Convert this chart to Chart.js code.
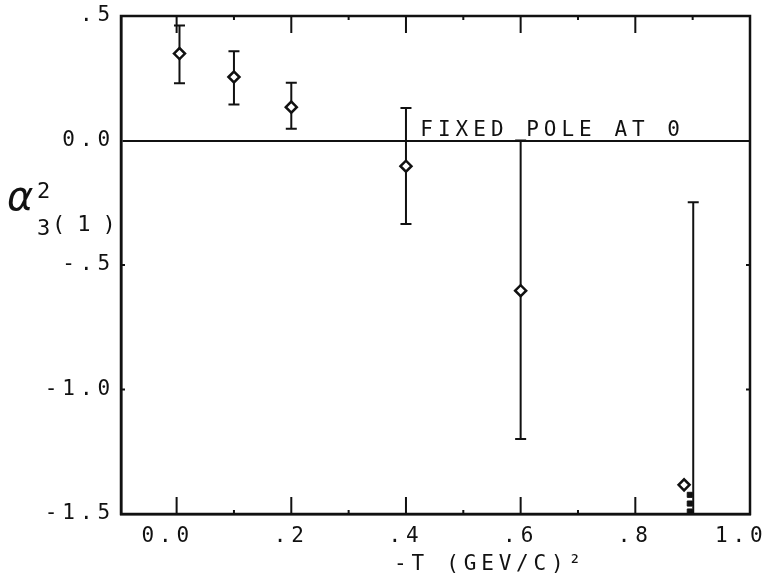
<!DOCTYPE html>
<html><head><meta charset="utf-8">
<script src="https://cdn.jsdelivr.net/npm/chart.js@4.4.1/dist/chart.umd.min.js"></script>
<style>html,body{margin:0;padding:0;background:#fff;}canvas{display:block;}</style>
</head><body>
<canvas id="c" width="762" height="581"></canvas>
<script>
// ---- data ----
const tValues      = [0.005, 0.1, 0.2, 0.4, 0.6, 0.885];
const alphaValues  = [0.349, 0.255, 0.134, -0.103, -0.603, -1.383];
const errT         = [0.005, 0.1, 0.2, 0.4, 0.6, 0.901];
const errUpper     = [0.462, 0.358, 0.232, 0.131, 0.0, -0.248];
const errLower     = [0.230, 0.145, 0.047, -0.335, -1.199, -1.5];
const clusterT     = [0.895, 0.895, 0.895];
const clusterValues= [-1.423, -1.458, -1.490];
const xTickValues  = [0, 0.2, 0.4, 0.6, 0.8, 1.0];
const xTickLabels  = ['0.0', '.2', '.4', '.6', '.8', '1.0'];
const xMinorTicks  = [0.1, 0.3, 0.5, 0.7, 0.9];
const yTickValues  = [0.5, 0, -0.5, -1.0, -1.5];
const yTickLabels  = ['.5', '0.0', '-.5', '-1.0', '-1.5'];
const annotationText = 'FIXED POLE AT 0';
const xTitle = '-T (GEV/C)²';

const MONO = '"DejaVu Sans Mono", monospace';
const SPACING = '4.9px';
const INK = '#111';

const plotter = {
  id: 'plotter',
  beforeUpdate(chart) { chart.ctx.letterSpacing = SPACING; },
  beforeDraw(chart) { chart.ctx.letterSpacing = SPACING; },
  beforeDatasetsDraw(chart) {
    const {ctx, scales: {x, y}, chartArea: a} = chart;
    ctx.save();
    ctx.beginPath(); ctx.rect(a.left, a.top, a.right - a.left, a.bottom - a.top); ctx.clip();
    ctx.strokeStyle = INK; ctx.lineWidth = 2;
    errT.forEach((t, i) => {
      const px = x.getPixelForValue(t);
      const pu = y.getPixelForValue(errUpper[i]);
      const pl = y.getPixelForValue(errLower[i]);
      ctx.beginPath();
      ctx.moveTo(px, pu); ctx.lineTo(px, pl);
      ctx.moveTo(px - 5.5, pu); ctx.lineTo(px + 5.5, pu);
      ctx.moveTo(px - 5.5, pl); ctx.lineTo(px + 5.5, pl);
      ctx.stroke();
    });
    ctx.restore();
  },
  afterDraw(chart) {
    const {ctx, scales: {x, y}, chartArea: a} = chart;
    ctx.save();
    ctx.strokeStyle = INK;
    // frame
    ctx.lineWidth = 2.5;
    ctx.strokeRect(a.left, a.top, a.right - a.left, a.bottom - a.top);
    // inward ticks on top and bottom
    ctx.lineWidth = 2;
    ctx.beginPath();
    xTickValues.forEach(v => {
      if (v >= 1) return;
      const px = x.getPixelForValue(v);
      ctx.moveTo(px, a.bottom); ctx.lineTo(px, a.bottom - 17);
      ctx.moveTo(px, a.top); ctx.lineTo(px, a.top + 17);
    });
    xMinorTicks.forEach(v => {
      const px = x.getPixelForValue(v);
      ctx.moveTo(px, a.bottom); ctx.lineTo(px, a.bottom - 4);
      ctx.moveTo(px, a.top); ctx.lineTo(px, a.top + 4);
    });
    [-0.5, -1.0].forEach(v => {
      const py = y.getPixelForValue(v);
      ctx.moveTo(a.left, py); ctx.lineTo(a.left + 4, py);
      ctx.moveTo(a.right, py); ctx.lineTo(a.right - 4, py);
    });
    ctx.stroke();

    ctx.fillStyle = INK;
    // annotation
    ctx.letterSpacing = '5px';
    ctx.font = '21px ' + MONO;
    ctx.textAlign = 'left'; ctx.textBaseline = 'alphabetic';
    ctx.fillText(annotationText, x.getPixelForValue(0.425), y.getPixelForValue(0) - 5);
    // x title
    ctx.letterSpacing = '4.8px';
    ctx.fillText(xTitle, 394, 570);
    // y title  alpha^2_3 (1)
    ctx.letterSpacing = '0px';
    ctx.font = 'italic 40px "DejaVu Sans"';
    ctx.fillText('α', 7, 210);
    ctx.font = '22px ' + MONO;
    ctx.fillText('2', 37, 198);
    ctx.fillText('3', 37, 235);
    ctx.letterSpacing = '12px';
    ctx.fillText('(1)', 52, 231);
    ctx.restore();
  }
};

new Chart(document.getElementById('c'), {
  type: 'scatter',
  data: {
    datasets: [
      {
        data: tValues.map((t, i) => ({x: t, y: alphaValues[i]})),
        pointStyle: 'rectRot', pointRadius: 5.5, borderWidth: 2.5,
        borderColor: INK, backgroundColor: '#fff', showLine: false
      },
      {
        data: clusterT.map((t, i) => ({x: t, y: clusterValues[i]})),
        pointStyle: 'rect', pointRadius: 3.6, borderWidth: 1,
        borderColor: INK, backgroundColor: INK, showLine: false
      }
    ]
  },
  options: {
    responsive: false, animation: false, events: [],
    layout: {padding: {left: 0, right: 12, top: 16, bottom: 0}},
    plugins: {legend: {display: false}, tooltip: {enabled: false}},
    scales: {
      x: {
        type: 'linear', min: -0.097, max: 1.0,
        afterBuildTicks: s => { s.ticks = xTickValues.map(v => ({value: v})); },
        afterFit: s => { s.height = 67; s.paddingLeft = 0; s.paddingRight = 0; },
        grid: {display: false, drawTicks: false},
        border: {display: true, color: INK, width: 2.5},
        ticks: {
          padding: 10, color: INK, maxRotation: 0, autoSkip: false,
          font: {family: MONO, size: 21},
          callback: v => {
            const lbl = xTickLabels[xTickValues.indexOf(v)];
            return (lbl === '0.0' || lbl === '1.0') ? lbl + ' ' : lbl;
          }
        }
      },
      y: {
        type: 'linear', min: -1.5, max: 0.5,
        afterBuildTicks: s => { s.ticks = yTickValues.map(v => ({value: v})); },
        afterFit: s => { s.width = 121; s.paddingTop = 0; s.paddingBottom = 0; },
        grid: {
          drawTicks: false,
          color: c => (c.tick && c.tick.value === 0) ? INK : 'rgba(0,0,0,0)',
          lineWidth: 2
        },
        border: {display: true, color: INK, width: 2.5},
        ticks: {
          padding: 6, color: INK, autoSkip: false,
          font: {family: MONO, size: 21},
          callback: v => yTickLabels[yTickValues.indexOf(v)]
        }
      }
    }
  },
  plugins: [plotter]
});
</script>
</body></html>
